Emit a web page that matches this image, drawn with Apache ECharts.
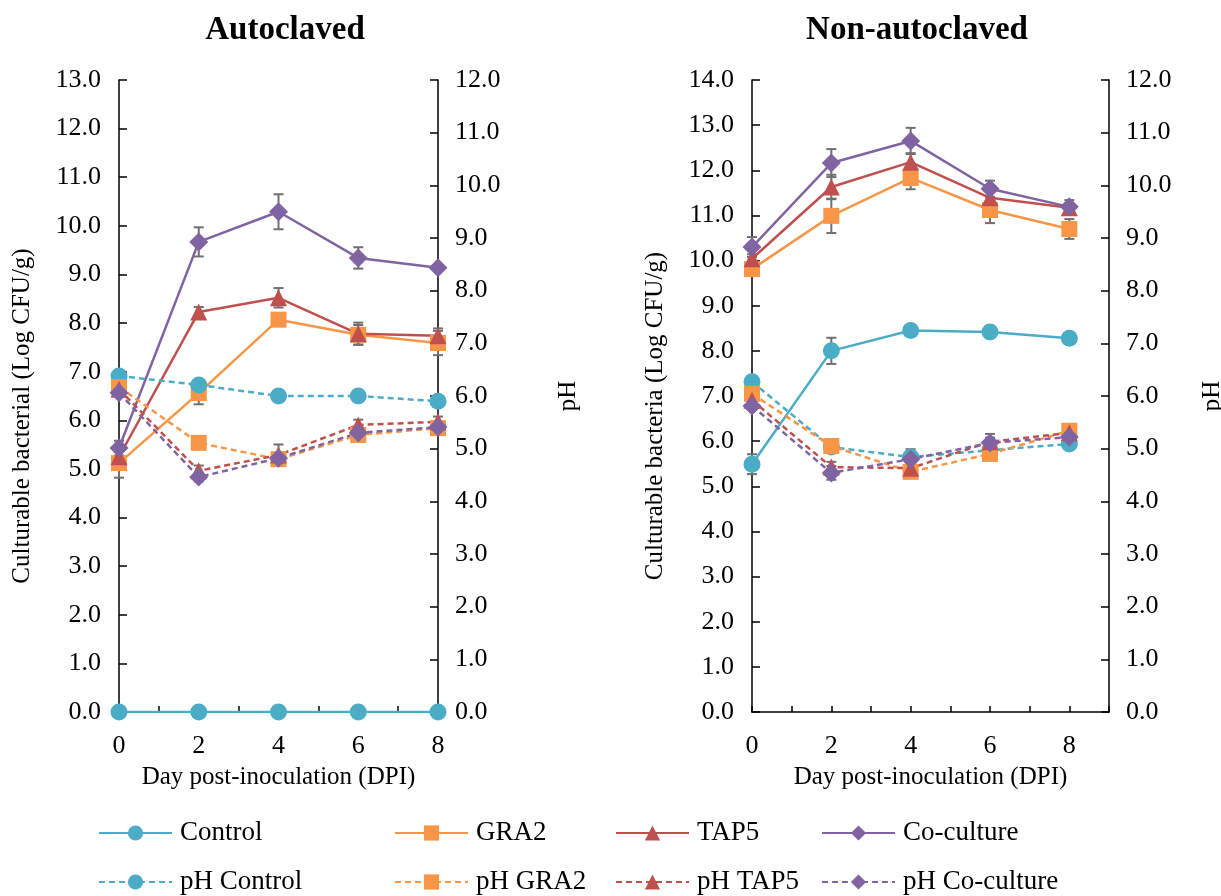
<!DOCTYPE html>
<html>
<head>
<meta charset="utf-8">
<script src="https://cdn.jsdelivr.net/npm/echarts@6/dist/echarts.min.js"></script>
<style>
  html, body { margin: 0; padding: 0; background: #fff; }
  #chart { width: 1221px; height: 896px; }
</style>
</head>
<body>
<div id="chart"></div>
<script>
// days on the x axis
const days = [0, 2, 4, 6, 8];

// Autoclaved: bacteria (Log CFU/g) and pH
const autoControl = [0, 0, 0, 0, 0];
const autoGRA2 = [5.12, 6.56, 8.07, 7.76, 7.59];
const autoTAP5 = [5.25, 8.23, 8.52, 7.78, 7.74];
const autoCo = [5.43, 9.67, 10.29, 9.34, 9.14];
const autoPhControl = [6.38, 6.21, 6.0, 6.0, 5.9];
const autoPhGRA2 = [6.17, 5.11, 4.8, 5.26, 5.39];
const autoPhTAP5 = [6.13, 4.58, 4.88, 5.45, 5.51];
const autoPhCo = [6.06, 4.46, 4.82, 5.3, 5.41];

const autoErrControl = [0, 0, 0, 0, 0];
const autoErrGRA2 = [0.3, 0.23, 0.1, 0.2, 0.25];
const autoErrTAP5 = [0.1, 0.1, 0.2, 0.23, 0.15];
const autoErrCo = [0.15, 0.3, 0.36, 0.22, 0.05];
const autoErrPhControl = [0.05, 0.05, 0.05, 0.05, 0.05];
const autoErrPhGRA2 = [0.05, 0.05, 0.08, 0.05, 0.05];
const autoErrPhTAP5 = [0.05, 0.1, 0.2, 0.1, 0.1];
const autoErrPhCo = [0.05, 0.08, 0.1, 0.05, 0.05];

// Non-autoclaved
const nonControl = [5.49, 8.0, 8.45, 8.42, 8.28];
const nonGRA2 = [9.81, 10.99, 11.83, 11.12, 10.7];
const nonTAP5 = [10.04, 11.63, 12.18, 11.39, 11.17];
const nonCo = [10.3, 12.16, 12.65, 11.59, 11.19];
const nonPhControl = [6.27, 5.03, 4.84, 4.97, 5.09];
const nonPhGRA2 = [6.04, 5.05, 4.56, 4.9, 5.34];
const nonPhTAP5 = [5.92, 4.65, 4.63, 5.13, 5.3];
const nonPhCo = [5.81, 4.54, 4.8, 5.11, 5.22];

const nonErrControl = [0.22, 0.29, 0.1, 0.05, 0.05];
const nonErrGRA2 = [0.15, 0.38, 0.25, 0.29, 0.22];
const nonErrTAP5 = [0.1, 0.27, 0.2, 0.15, 0.1];
const nonErrCo = [0.22, 0.31, 0.29, 0.18, 0.15];
const nonErrPhControl = [0.05, 0.05, 0.15, 0.05, 0.05];
const nonErrPhGRA2 = [0.05, 0.05, 0.05, 0.05, 0.05];
const nonErrPhTAP5 = [0.05, 0.1, 0.05, 0.15, 0.05];
const nonErrPhCo = [0.05, 0.13, 0.05, 0.1, 0.05];

const colors = { Control: '#4BACC6', GRA2: '#F79646', TAP5: '#C0504D', 'Co-culture': '#8064A2' };
const symbols = { Control: 'circle', GRA2: 'rect', TAP5: 'triangle', 'Co-culture': 'diamond' };
const symSizes = { Control: 17, GRA2: 16, TAP5: 17, 'Co-culture': 19 };

const FONT = 'Liberation Serif, Times New Roman, serif';

const pairs = (vals) => days.map((d, i) => [d, vals[i]]);
const triples = (vals, errs) => days.map((d, i) => [d, vals[i], errs[i]]);

function lineSeries(name, key, vals, gridIdx, yIdx, dashed) {
  return {
    type: 'line',
    name: name,
    xAxisIndex: gridIdx,
    yAxisIndex: yIdx,
    data: pairs(vals),
    symbol: symbols[key],
    symbolSize: symSizes[key],
    color: colors[key],
    lineStyle: { width: 2.5, type: dashed ? [6, 4] : 'solid', color: colors[key] },
    itemStyle: { color: colors[key] },
    z: 3,
    animation: false
  };
}

function renderErr(params, api) {
  const x = api.value(0), y = api.value(1), e = api.value(2);
  if (!e) return null;
  const hi = api.coord([x, y + e]);
  const lo = api.coord([x, y - e]);
  const cap = 5;
  const st = { stroke: '#707070', lineWidth: 2 };
  return {
    type: 'group',
    children: [
      { type: 'line', shape: { x1: hi[0], y1: hi[1], x2: lo[0], y2: lo[1] }, style: st },
      { type: 'line', shape: { x1: hi[0] - cap, y1: hi[1], x2: hi[0] + cap, y2: hi[1] }, style: st },
      { type: 'line', shape: { x1: lo[0] - cap, y1: lo[1], x2: lo[0] + cap, y2: lo[1] }, style: st }
    ]
  };
}

function errSeries(vals, errs, gridIdx, yIdx) {
  return {
    type: 'custom',
    xAxisIndex: gridIdx,
    yAxisIndex: yIdx,
    data: triples(vals, errs),
    renderItem: renderErr,
    encode: { x: 0, y: 1 },
    z: 2,
    silent: true,
    animation: false
  };
}

function xAxis(gridIdx, max) {
  return {
    type: 'value',
    gridIndex: gridIdx,
    min: 0,
    max: max,
    interval: 1,
    name: 'Day post-inoculation (DPI)',
    nameLocation: 'middle',
    nameGap: 53,
    nameTextStyle: { fontFamily: FONT, fontSize: 25, color: '#000' },
    axisLine: { show: true, onZero: false, lineStyle: { color: '#000', width: 1.5 } },
    axisTick: { show: true, inside: true, length: 6, lineStyle: { color: '#000', width: 1.5 } },
    axisLabel: {
      margin: 21,
      fontFamily: FONT, fontSize: 26, color: '#000',
      formatter: (v) => (v % 2 === 0 && v <= 8 ? String(v) : '')
    },
    splitLine: { show: false }
  };
}

function yAxis(gridIdx, pos, max, name, gap, namePad) {
  return {
    type: 'value',
    gridIndex: gridIdx,
    position: pos,
    min: 0,
    max: max,
    interval: 1,
    name: name,
    nameLocation: 'middle',
    nameGap: gap,
    nameTextStyle: { fontFamily: FONT, fontSize: 25, color: '#000', padding: namePad },
    axisLine: { show: true, lineStyle: { color: '#000', width: 1.5 } },
    axisTick: { show: true, inside: true, length: 8, lineStyle: { color: '#000', width: 1.5 } },
    axisLabel: {
      margin: pos === 'left' ? 18 : 17,
      fontFamily: FONT, fontSize: 26, color: '#000',
      formatter: (v) => v.toFixed(1)
    },
    splitLine: { show: false }
  };
}

const autoSets = [
  ['Control', 'Control', autoControl, autoErrControl, 0, false],
  ['GRA2', 'GRA2', autoGRA2, autoErrGRA2, 0, false],
  ['TAP5', 'TAP5', autoTAP5, autoErrTAP5, 0, false],
  ['Co-culture', 'Co-culture', autoCo, autoErrCo, 0, false],
  ['pH Control', 'Control', autoPhControl, autoErrPhControl, 1, true],
  ['pH GRA2', 'GRA2', autoPhGRA2, autoErrPhGRA2, 1, true],
  ['pH TAP5', 'TAP5', autoPhTAP5, autoErrPhTAP5, 1, true],
  ['pH Co-culture', 'Co-culture', autoPhCo, autoErrPhCo, 1, true]
];
const nonSets = [
  ['Control', 'Control', nonControl, nonErrControl, 2, false],
  ['GRA2', 'GRA2', nonGRA2, nonErrGRA2, 2, false],
  ['TAP5', 'TAP5', nonTAP5, nonErrTAP5, 2, false],
  ['Co-culture', 'Co-culture', nonCo, nonErrCo, 2, false],
  ['pH Control', 'Control', nonPhControl, nonErrPhControl, 3, true],
  ['pH GRA2', 'GRA2', nonPhGRA2, nonErrPhGRA2, 3, true],
  ['pH TAP5', 'TAP5', nonPhTAP5, nonErrPhTAP5, 3, true],
  ['pH Co-culture', 'Co-culture', nonPhCo, nonErrPhCo, 3, true]
];

const series = [];
autoSets.forEach(s => {
  series.push(errSeries(s[2], s[3], 0, s[4]));
  series.push(lineSeries(s[0], s[1], s[2], 0, s[4], s[5]));
});
nonSets.forEach(s => {
  series.push(errSeries(s[2], s[3], 1, s[4]));
  series.push(lineSeries(s[0], s[1], s[2], 1, s[4], s[5]));
});

// one legend per entry so the columns line up like the original
const legendCols = [98, 394, 615, 821];
const legendRows = [819, 868];
const legendNames = [
  ['Control', 'GRA2', 'TAP5', 'Co-culture'],
  ['pH Control', 'pH GRA2', 'pH TAP5', 'pH Co-culture']
];
const legends = [];
legendNames.forEach((row, r) => {
  row.forEach((nm, c) => {
    legends.push({
      left: legendCols[c],
      top: legendRows[r],
      padding: 0,
      itemWidth: 73,
      itemHeight: 19,
      textStyle: { fontFamily: FONT, fontSize: 27, color: '#000', lineHeight: 28, padding: [0, 0, 0, 3] },
      data: [nm]
    });
  });
});

const chart = echarts.init(document.getElementById('chart'));
chart.setOption({
  backgroundColor: '#fff',
  animation: false,
  title: [
    { text: 'Autoclaved', left: 280, top: 9, textAlign: 'center',
      textStyle: { fontFamily: FONT, fontSize: 33, fontWeight: 'bold', color: '#000' } },
    { text: 'Non-autoclaved', left: 912, top: 9, textAlign: 'center',
      textStyle: { fontFamily: FONT, fontSize: 33, fontWeight: 'bold', color: '#000' } }
  ],
  grid: [
    { left: 119, top: 80, width: 319, height: 632, outerBoundsMode: 'none' },
    { left: 752, top: 80, width: 357, height: 632, outerBoundsMode: 'none' }
  ],
  xAxis: [xAxis(0, 8), xAxis(1, 9)],
  yAxis: [
    yAxis(0, 'left', 13, 'Culturable bacterial (Log CFU/g)', 84, [0, 40, 0, 0]),
    yAxis(0, 'right', 12, 'pH', 118, 0),
    yAxis(1, 'left', 14, 'Culturable bacteria (Log CFU/g)', 84, [0, 40, 0, 0]),
    yAxis(1, 'right', 12, 'pH', 91, 0)
  ],
  legend: legends,
  series: series
});
</script>
</body>
</html>
